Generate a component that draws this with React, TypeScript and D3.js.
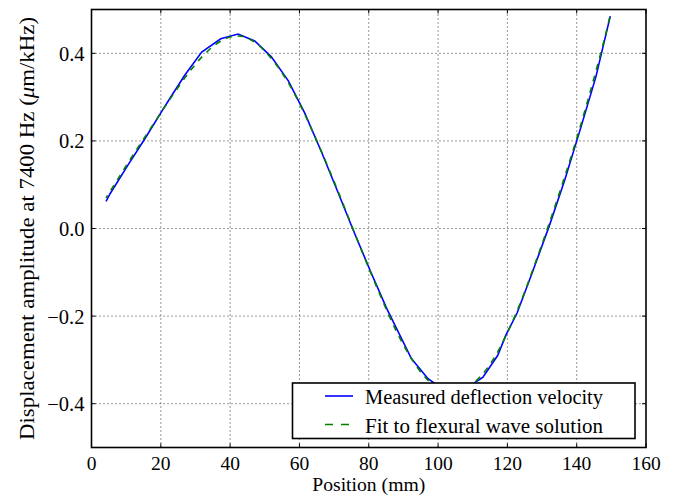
import { useEffect, useRef } from "react";
import * as d3 from "d3";

// measured deflection velocity (mm, um/kHz)
const measuredX = [4.2, 5.4, 10.6, 15.4, 20, 23.1, 26.9, 31.8, 37.3, 42.3, 47.1, 51.9, 56.8, 61.5, 66.4, 71.0, 75.6, 80.4, 85.2, 92.3, 97.1, 102, 106.8, 110.6, 112.9, 117.2, 119.6, 122.8, 127.3, 132.1, 136.6, 141.1, 145.5, 149.7];
const measuredY = [0.062, 0.080, 0.146, 0.205, 0.264, 0.303, 0.350, 0.403, 0.433, 0.444, 0.428, 0.392, 0.337, 0.264, 0.174, 0.085, -0.005, -0.096, -0.183, -0.297, -0.343, -0.370, -0.372, -0.352, -0.340, -0.290, -0.243, -0.193, -0.098, 0.006, 0.112, 0.228, 0.345, 0.485];

// flexural wave fit
const fitX = [4.2, 8, 12, 16, 20, 24, 28, 32, 36, 40, 44, 48, 52, 56, 60, 64, 68, 72, 76, 80, 84, 88, 92, 96, 100, 104, 108, 112, 116, 120, 124, 128, 132, 136, 140, 144, 148, 149.7];
const fitY = [0.070, 0.118, 0.168, 0.216, 0.264, 0.311, 0.355, 0.393, 0.421, 0.437, 0.438, 0.420, 0.387, 0.343, 0.286, 0.218, 0.145, 0.068, -0.012, -0.090, -0.165, -0.235, -0.293, -0.337, -0.365, -0.375, -0.366, -0.340, -0.298, -0.238, -0.165, -0.080, 0.010, 0.105, 0.205, 0.315, 0.432, 0.488];

const xTicks = [0, 20, 40, 60, 80, 100, 120, 140, 160];
const yTicks = [-0.4, -0.2, 0.0, 0.2, 0.4];
const seriesNames = ["Measured deflection velocity", "Fit to flexural wave solution"];

const FONT = "'Liberation Serif', 'DejaVu Serif', serif";

function App() {
    const svgRef = useRef<SVGSVGElement>(null);
    const width = 679, height = 500;
    const margin = { top: 9.5, right: 33, bottom: 52.5, left: 91.5 };

    useEffect(() => {
        const svg = d3.select(svgRef.current);
        svg.selectAll("*").remove();

        const x = d3.scaleLinear().domain([0, 160]).range([margin.left, width - margin.right]);
        const y = d3.scaleLinear().domain([-0.5, 0.5]).range([height - margin.bottom, margin.top]);
        const x0 = x.range()[0], x1 = x.range()[1];
        const y0 = y.range()[0], y1 = y.range()[1];

        svg.append("rect").attr("width", width).attr("height", height).attr("fill", "#fff");

        // grid
        const grid = svg.append("g").attr("stroke", "#000").attr("stroke-width", 1)
            .attr("stroke-dasharray", "1,3").attr("opacity", 0.8);
        xTicks.slice(1, -1).forEach(t => {
            grid.append("line").attr("x1", x(t)).attr("x2", x(t)).attr("y1", y0).attr("y2", y1);
        });
        yTicks.forEach(t => {
            grid.append("line").attr("x1", x0).attr("x2", x1).attr("y1", y(t)).attr("y2", y(t));
        });

        // lines
        const measured = measuredX.map((v, i) => [v, measuredY[i]] as [number, number]);
        const fit = fitX.map((v, i) => [v, fitY[i]] as [number, number]);
        const line = d3.line<[number, number]>().x(d => x(d[0])).y(d => y(d[1]));
        const smooth = d3.line<[number, number]>().x(d => x(d[0])).y(d => y(d[1])).curve(d3.curveCatmullRom);

        svg.append("path").attr("d", line(measured)).attr("fill", "none")
            .attr("stroke", "#0000ff").attr("stroke-width", 1.6);
        svg.append("path").attr("d", smooth(fit)).attr("fill", "none")
            .attr("stroke", "#008000").attr("stroke-width", 1.6).attr("stroke-dasharray", "6,6")
            .attr("stroke-dashoffset", 3);

        // ticks, all four sides, inward
        const tk = svg.append("g").attr("stroke", "#000").attr("stroke-width", 1);
        xTicks.forEach(t => {
            tk.append("line").attr("x1", x(t)).attr("x2", x(t)).attr("y1", y0).attr("y2", y0 - 4);
            tk.append("line").attr("x1", x(t)).attr("x2", x(t)).attr("y1", y1).attr("y2", y1 + 4);
        });
        yTicks.forEach(t => {
            tk.append("line").attr("x1", x0).attr("x2", x0 + 4).attr("y1", y(t)).attr("y2", y(t));
            tk.append("line").attr("x1", x1).attr("x2", x1 - 4).attr("y1", y(t)).attr("y2", y(t));
        });

        // frame
        svg.append("rect").attr("x", x0).attr("y", y1).attr("width", x1 - x0).attr("height", y0 - y1)
            .attr("fill", "none").attr("stroke", "#000").attr("stroke-width", 1.6);

        // tick labels
        svg.append("g").selectAll("text").data(xTicks).enter().append("text")
            .attr("x", d => x(d)).attr("y", y0 + 22).attr("text-anchor", "middle")
            .attr("font-family", FONT).attr("font-size", 19.5).text(d => String(d));
        svg.append("g").selectAll("text").data(yTicks).enter().append("text")
            .attr("x", x0 - 7).attr("y", d => y(d) + 7.5).attr("text-anchor", "end")
            .attr("font-family", FONT).attr("font-size", 20.5)
            .text(d => d3.format(".1f")(d).replace("-", "\u2212"));

        // axis labels
        svg.append("text").attr("x", (x0 + x1) / 2).attr("y", 490.5).attr("text-anchor", "middle")
            .attr("font-family", FONT).attr("font-size", 18.5)
            .attr("textLength", 113).attr("lengthAdjust", "spacingAndGlyphs")
            .text("Position (mm)");
        const yl = svg.append("text").attr("transform", `translate(34, ${(y0 + y1) / 2}) rotate(-90)`)
            .attr("text-anchor", "middle").attr("font-family", FONT).attr("font-size", 20.5)
            .attr("textLength", 423).attr("lengthAdjust", "spacingAndGlyphs");
        yl.append("tspan").text("Displacement amplitude at 7400 Hz (");
        yl.append("tspan").attr("font-style", "italic").text("\u03bc");
        yl.append("tspan").text("m/kHz)");

        // legend
        const lg = svg.append("g").attr("transform", `translate(${x1 - 11}, ${y0 - 9})`);
        lg.append("rect").attr("x", -342.5).attr("y", -55.5).attr("width", 342.5).attr("height", 55.5)
            .attr("fill", "#fff").attr("stroke", "#000").attr("stroke-width", 1.6);
        const styles = [
            { stroke: "#0000ff", dash: null },
            { stroke: "#008000", dash: "8,8" },
        ];
        seriesNames.forEach((name, i) => {
            const cy = -42.5 + i * 28.5;
            lg.append("line").attr("x1", -310).attr("x2", -282).attr("y1", cy).attr("y2", cy)
                .attr("stroke", styles[i].stroke).attr("stroke-width", 1.6)
                .attr("stroke-dasharray", styles[i].dash);
            lg.append("text").attr("x", -270).attr("y", cy + 8).attr("font-family", FONT)
                .attr("font-size", 20.5)
                .attr("textLength", 238).attr("lengthAdjust", "spacingAndGlyphs")
                .text(name);
        });
    }, []);

    return (
        <div style={{ position: "absolute", left: 0, top: 0 }}>
            <svg ref={svgRef} width={width} height={height} style={{ display: "block" }}></svg>
        </div>
    );
}

export default App;
